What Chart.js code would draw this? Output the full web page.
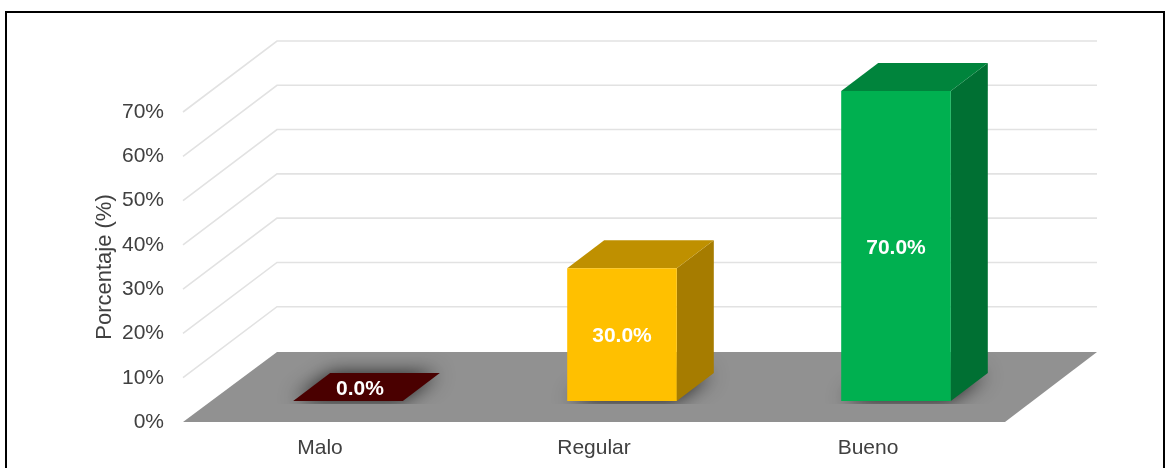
<!DOCTYPE html>
<html>
<head>
<meta charset="utf-8">
<script src="https://cdn.jsdelivr.net/npm/chart.js@4"></script>
<style>
html, body { margin: 0; background: #fff; }
canvas { display: block; filter: blur(0.7px); }
</style>
</head>
<body>
<canvas id="chart-bar" width="1168" height="468"></canvas>
<script>
var categorias = ["Malo", "Regular", "Bueno"];
var porcentajes = [0, 30, 70];
var etiquetas = ["0.0%", "30.0%", "70.0%"];
var colorFrente = ["#4a0000", "#ffc000", "#00b050"];
var colorTecho = ["#4a0000", "#bf9000", "#00843c"];
var colorLado = ["#4a0000", "#a67c00", "#007033"];

// depth of the fake 3d box
var fondoX = 93, fondoY = -70;
var barraX = 37, barraY = -28;
var despX = 28, despY = -21;

function poligono(ctx, pts, color) {
    ctx.beginPath();
    ctx.moveTo(pts[0][0], pts[0][1]);
    for (var i = 1; i < pts.length; i++) ctx.lineTo(pts[i][0], pts[i][1]);
    ctx.closePath();
    ctx.fillStyle = color;
    ctx.fill();
}

var efecto3d = {
    id: "efecto3d",
    beforeDraw: function(chart) {
        var ctx = chart.ctx;
        // frame of the picture, open at the bottom
        ctx.save();
        ctx.strokeStyle = "#000";
        ctx.lineWidth = 2;
        ctx.beginPath();
        ctx.moveTo(6, 468);
        ctx.lineTo(6, 12);
        ctx.lineTo(1164, 12);
        ctx.lineTo(1164, 468);
        ctx.stroke();
        ctx.restore();
    },
    beforeDatasetsDraw: function(chart) {
        var ctx = chart.ctx, a = chart.chartArea, y = chart.scales.y;
        ctx.save();
        ctx.strokeStyle = "#e2e2e2";
        ctx.lineWidth = 1.6;
        y.ticks.forEach(function(t) {
            if (t.value === 0) return;
            var py = y.getPixelForValue(t.value);
            ctx.beginPath();
            ctx.moveTo(a.left, py);
            ctx.lineTo(a.left + fondoX + 1, py + fondoY - 1);
            ctx.lineTo(a.right + fondoX - 1, py + fondoY - 1);
            ctx.stroke();
        });
        // floor
        poligono(ctx, [
            [a.left, a.bottom], [a.right, a.bottom],
            [a.right + fondoX - 1, a.bottom + fondoY], [a.left + fondoX + 1, a.bottom + fondoY]
        ], "#919191");
        ctx.restore();

        ctx.save();
        ctx.translate(despX, despY);
        var barras = chart.getDatasetMeta(0).data;
        barras.forEach(function(b, i) {
            var iz = b.x - b.width / 2, de = b.x + b.width / 2;
            // shadow on the floor, cut just under the front edge
            ctx.save();
            ctx.beginPath();
            ctx.rect(iz - 60, b.base + barraY - 30, b.width + barraX + 120, 33 - barraY);
            ctx.clip();
            ctx.shadowColor = "rgba(0,0,0,0.85)";
            ctx.shadowBlur = 20;
            poligono(ctx, [[iz + 2, b.base - 1], [de - 2, b.base - 1], [de + barraX - 2, b.base + barraY + 1], [iz + barraX + 2, b.base + barraY + 1]], "#555");
            ctx.restore();
            poligono(ctx, [[de, b.y], [de + barraX, b.y + barraY], [de + barraX, b.base + barraY], [de, b.base]], colorLado[i]);
            poligono(ctx, [[iz, b.y], [de, b.y], [de + barraX, b.y + barraY], [iz + barraX, b.y + barraY]], colorTecho[i]);
        });
    },
    afterDatasetsDraw: function(chart) {
        var ctx = chart.ctx;
        ctx.restore();
        ctx.save();
        ctx.fillStyle = "#fff";
        ctx.font = "bold 21px 'Liberation Sans'";
        ctx.textAlign = "center";
        ctx.textBaseline = "middle";
        chart.getDatasetMeta(0).data.forEach(function(b, i) {
            var cx = b.x + despX, cy = (b.y + b.base) / 2 + despY + 2;
            if (porcentajes[i] === 0) {
                cx += 12;
                cy += barraY / 2;
            }
            ctx.fillText(etiquetas[i], cx, cy);
        });
        ctx.restore();
    }
};

var ctx = document.getElementById("chart-bar").getContext("2d");
var myChart = new Chart(ctx, {
    type: "bar",
    data: {
        labels: categorias,
        datasets: [{
            label: "Porcentaje",
            data: porcentajes,
            backgroundColor: colorFrente,
            categoryPercentage: 0.4,
            barPercentage: 1,
            clip: false
        }]
    },
    options: {
        responsive: false,
        animation: false,
        layout: { padding: { left: 92, right: 163, top: 112, bottom: 0 } },
        plugins: { legend: { display: false }, tooltip: { enabled: false } },
        scales: {
            x: {
                grid: { display: false },
                border: { display: false },
                ticks: { color: "#404040", font: { family: "Liberation Sans", size: 21 }, padding: 6, maxRotation: 0 },
                afterFit: function(s) { s.height = 46; }
            },
            y: {
                min: 0,
                max: 70,
                grid: { display: false },
                border: { display: false },
                ticks: {
                    stepSize: 10,
                    color: "#404040",
                    font: { family: "Liberation Sans", size: 21 },
                    padding: 11,
                    callback: function(v) { return v + "%"; }
                },
                title: {
                    display: true,
                    text: "Porcentaje (%)",
                    color: "#404040",
                    font: { family: "Liberation Sans", size: 22 },
                    padding: 0
                },
                afterFit: function(s) { s.width = 91; }
            }
        }
    },
    plugins: [efecto3d]
});
</script>
</body>
</html>
